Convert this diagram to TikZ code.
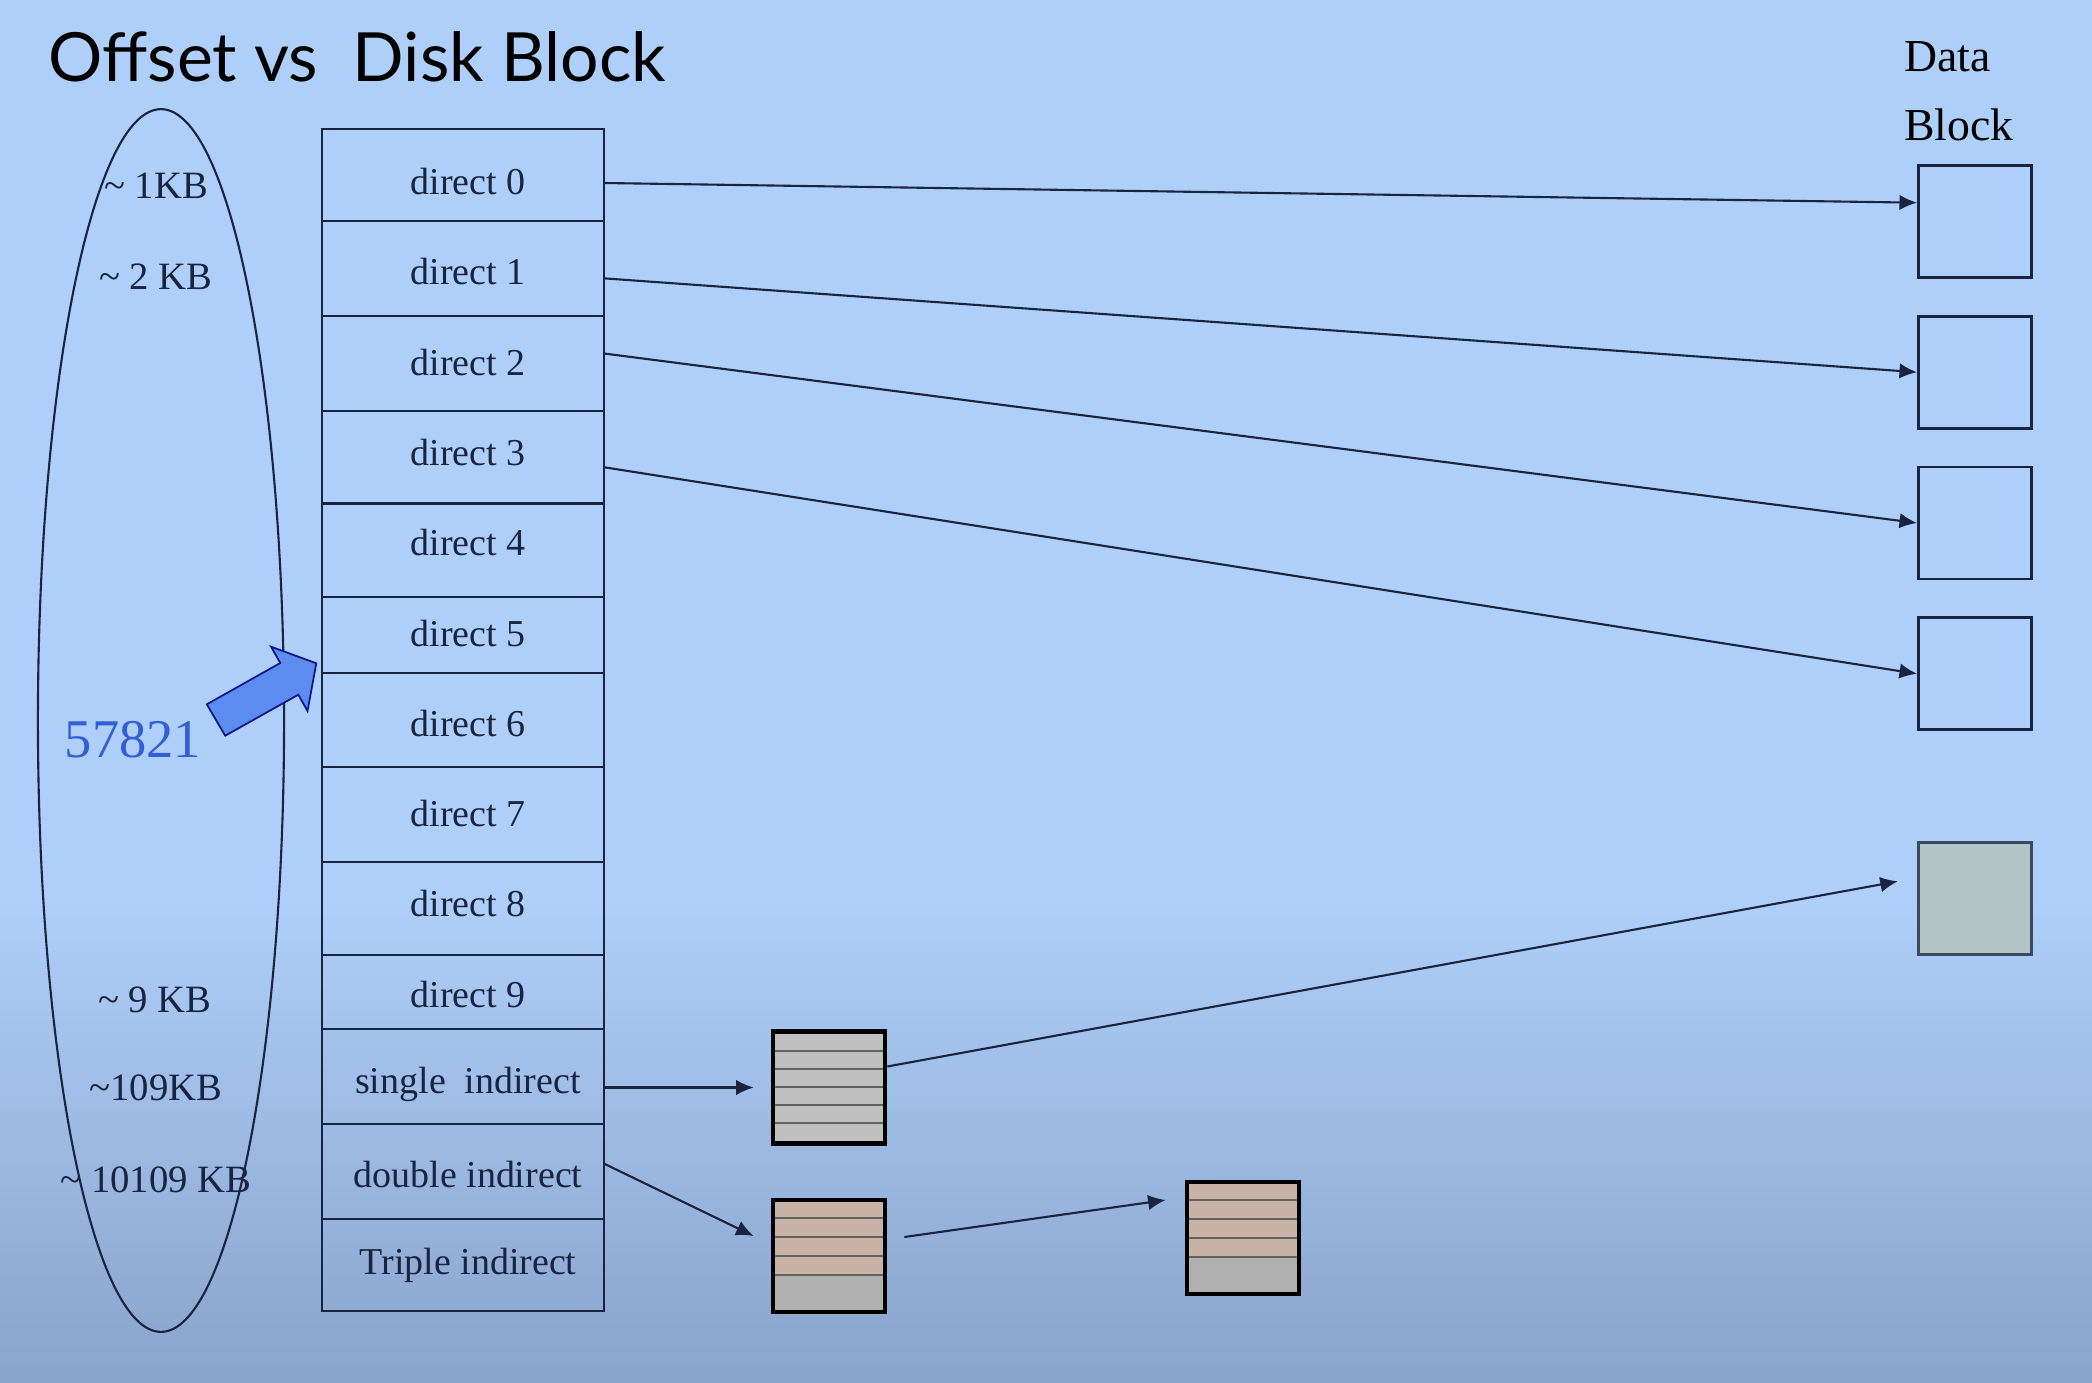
\documentclass[tikz,border=0pt]{standalone}
\usepackage{fontspec}
\setmainfont{Liberation Serif}
\newfontfamily\titlefont{Lato}
\usetikzlibrary{arrows.meta,calc}
\definecolor{bgtop}{RGB}{174,207,249}
\definecolor{bgbot}{RGB}{138,164,203}
\definecolor{ink}{RGB}{24,36,64}
\definecolor{offblue}{RGB}{52,94,214}
\definecolor{arrblue}{RGB}{92,140,240}
\definecolor{blkgray}{RGB}{192,192,192}
\definecolor{blkpink}{RGB}{201,178,166}
\definecolor{blkgraytwo}{RGB}{176,176,176}
\definecolor{datagray}{RGB}{180,196,198}
\definecolor{slate}{RGB}{58,74,92}

\begin{document}
\begin{tikzpicture}[x=0.01cm,y=-0.01cm,
		cell/.style={draw=ink,line width=0.6pt,outer sep=0pt,minimum width=2.82cm,anchor=north},
		celltext/.style={text=ink,font=\fontsize{10.8}{13}\selectfont},
		dblock/.style={draw=ink,line width=0.8pt,minimum width=1.13cm,minimum height=1.12cm,inner sep=0pt},
		iblock/.style={draw=black,line width=1.3pt,minimum width=1.12cm,minimum height=1.12cm,inner sep=0pt},
		stripe/.style={draw=black!62,line width=0.7pt},
		kb/.style={text=ink,font=\fontsize{11}{13}\selectfont},
		ptr/.style={->,draw=ink,line width=0.6pt},
		>={Latex[length=5pt,width=4.4pt]}]
	\useasboundingbox (0,0) rectangle (2092,1382);
	\fill[bgtop] (0,0) rectangle (2092,1382);
	\shade[top color=bgtop,bottom color=bgbot] (0,900) rectangle (2092,1382);
	\node[anchor=base west,font=\titlefont\fontsize{19.3}{22}\selectfont] (title) at (36,82) {Offset vs\ \ Disk Block};

	\draw[ink,line width=0.6pt] (161,720.5) ellipse [x radius=1.23cm,y radius=6.11cm];
	\node[kb] (k1) at (156,186) {\textasciitilde\ 1KB};
	\node[kb] (k2) at (156,277) {\textasciitilde\ 2 KB};
	\node[kb] (k9) at (155,1000) {\textasciitilde\ 9 KB};
	\node[kb] (k109) at (156,1088) {\textasciitilde109KB};
	\node[kb] (k10109) at (156,1180) {\textasciitilde\ 10109 KB};
	\node[text=offblue,font=\fontsize{15.5}{18}\selectfont] (off) at (133,740) {57821};
	\filldraw[fill=arrblue,draw=ink!60!blue,line width=0.5pt] (206.8,704.3) -- (280.3,663) -- (271.1,646.7) -- (316.3,663.3) -- (307.5,711) -- (298.3,694.7) -- (225.2,735.7) -- cycle;

	\foreach \n/\t/\b/\txt [count=\i from 0] in {d0/129.3/220.7/direct 0, d1/220.7/316/direct 1, d2/316/411/direct 2,
			d3/411/503.5/direct 3, d4/503.5/596.8/direct 4, d5/596.8/672.7/direct 5,
			d6/672.7/767.3/direct 6, d7/767.3/862.2/direct 7, d8/862.2/954.6/direct 8,
			d9/954.6/1029.3/direct 9, si/1029.3/1124/single\ \ indirect,
			di/1124/1219.3/double indirect, ti/1219.3/1310.7/Triple indirect}{
		\node[cell,minimum height={(\b-\t)*0.01cm}] (\n) at (463,\t) {};
		\node[celltext] (\n txt) at (468,{181.5+90.3*\i}) {\txt};
	}

	\node[anchor=base west,font=\fontsize{13}{15}\selectfont] (dlab) at (1892,71.7) {Data};
	\node[anchor=base west,font=\fontsize{13}{15}\selectfont] (blab) at (1892,140) {Block};
	\foreach \n/\y in {b0/221.7,b1/372.2,b2/523,b3/673.8}
		\node[dblock] (\n) at (1975,\y) {};
	\node[dblock,fill=datagray,draw=slate,line width=0.9pt] (bg) at (1975,898.3) {};

	\draw[ptr] ($(d0.east)+(0,8)$) -- ($(b0.west)+(0,-19)$);
	\draw[ptr] ($(d1.east)+(0,10)$) -- (b1.west);
	\draw[ptr] ($(d2.east)+(0,-10)$) -- (b2.west);
	\draw[ptr] ($(d3.east)+(0,10)$) -- (b3.west);

	\fill[blkgray] (773,1032) rectangle (885,1143);
	\foreach \y in {1051,1069,1087,1105,1123}
		\draw[stripe] (773,\y) -- (885,\y);
	\node[iblock] (sib) at (829,1087.5) {};

	\fill[blkpink] (773,1200) rectangle (885,1275);
	\fill[blkgraytwo] (773,1275) rectangle (885,1312);
	\foreach \y in {1218,1237,1256,1275}
		\draw[stripe] (773,\y) -- (885,\y);
	\node[iblock] (dib) at (829,1256) {};

	\fill[blkpink] (1187,1182) rectangle (1299,1257);
	\fill[blkgraytwo] (1187,1257) rectangle (1299,1294);
	\foreach \y in {1200,1219,1238,1257}
		\draw[stripe] (1187,\y) -- (1299,\y);
	\node[iblock] (tib) at (1243,1238) {};

	\draw[ptr] (si.east |- sib) -- ($(sib.west)+(-17,0)$);
	\draw[ptr] ($(di.east)+(0,-8)$) -- ($(dib.west)+(-17,-20)$);
	\draw[ptr] ($(dib.east)+(17,-19)$) -- ($(tib.west)+(-19,-38)$);
	\draw[ptr] ($(sib.east)+(0,-21)$) -- ($(bg.west)+(-19,-17)$);
\end{tikzpicture}
\end{document}
